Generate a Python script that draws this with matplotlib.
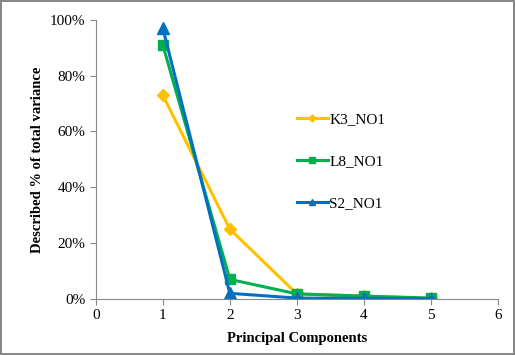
import matplotlib.pyplot as plt
from matplotlib.ticker import PercentFormatter

plt.rcParams['font.family'] = ['Liberation Serif', 'DejaVu Serif']

#%% Datos
components = [1, 2, 3, 4, 5]
k3_no1 = [73, 25, 1.8, 1.0, 0.2]
l8_no1 = [91, 7, 1.8, 1.0, 0.3]
s2_no1 = [97, 2, 0.3, 0.2, 0.1]

#%% Grafica
fig = plt.figure(figsize=(5.15, 3.55), dpi=100, edgecolor='#888888', linewidth=1.5)
ax = fig.add_axes([0.186, 0.158, 0.781, 0.786])

ax.plot(components, k3_no1, color='#FFC000', lw=2.2, marker='D', ms=6, label='K3_NO1')
ax.plot(components, l8_no1, color='#00B050', lw=2.2, marker='s', ms=7, label='L8_NO1')
ax.plot(components, s2_no1, color='#0070C0', lw=2.2, marker='^', ms=8, label='S2_NO1')

ax.set_xlim(0, 6)
ax.set_ylim(0, 100)
ax.set_xticks(range(0, 7))
ax.set_yticks(range(0, 101, 20))
ax.yaxis.set_major_formatter(PercentFormatter(decimals=0))
ax.tick_params(labelsize=11, color='#888888', length=4)
for s in ['top', 'right']:
    ax.spines[s].set_visible(False)
for s in ['left', 'bottom']:
    ax.spines[s].set_color('#888888')

ax.set_xlabel('Principal Components', fontsize=10.5, fontweight='bold', labelpad=7)
ax.set_ylabel('Described % of total variance', fontsize=10.5, fontweight='bold', labelpad=4)

fig.legend(loc='center left', bbox_to_anchor=(0.55, 0.546), frameon=False,
           fontsize=11, labelspacing=1.85, handlelength=2.0, handletextpad=0.1,
           markerscale=0.6)

fig.savefig('out.png', dpi=100)
